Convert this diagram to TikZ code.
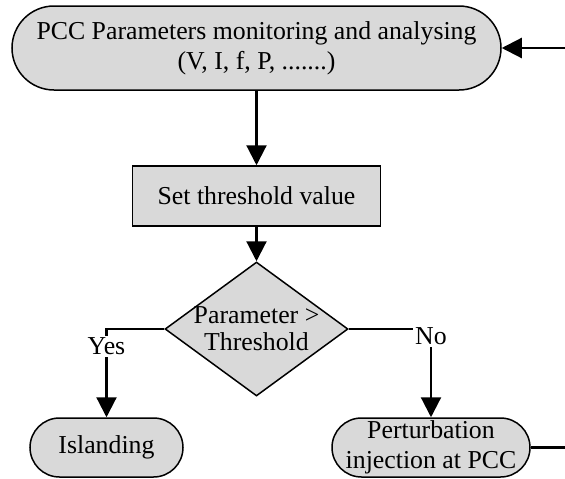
\documentclass[tikz,border=0pt]{standalone}
\usepackage{fontspec}
\setmainfont{Liberation Serif}
\usetikzlibrary{arrows.meta,shapes.geometric}
\definecolor{boxgray}{RGB}{217,217,217}
\begin{document}
\begin{tikzpicture}[x=1pt,y=-1pt,
  txt/.style={font=\fontsize{25.8}{30}\selectfont, align=center},
  term/.style={txt, draw, fill=boxgray, line width=1.5pt, rounded corners=#1, inner sep=0pt},
  proc/.style={txt, draw, fill=boxgray, line width=1.5pt, inner sep=0pt},
  decbox/.style={shape=diamond, draw, fill=boxgray, line width=1.5pt, inner sep=0pt},
  conn/.style={line width=2.2pt, -{Triangle[length=20pt,width=20pt]}},
  plain/.style={line width=2.2pt},
  lbl/.style={txt, fill=white, inner sep=2pt}
]
\useasboundingbox (0,0) rectangle (565,479);
\node[term=42pt, minimum width=489pt, minimum height=84pt] (mon) at (256.5,48)
  {PCC Parameters monitoring and analysing\\(V, I, f, P, .......)};
\node[proc, minimum width=248pt, minimum height=60pt] (thr) at (256.5,196) {Set threshold value};
\node[decbox, minimum width=183pt, minimum height=134pt] (dec) at (256.5,329) {};
\node[txt, font=\fontsize{25.8}{27}\selectfont] (dect) at (dec.center) {Parameter >\\Threshold};
\node[term=29.5pt, minimum width=153pt, minimum height=59pt] (isl) at (106.5,447.5) {Islanding};
\node[term=29.5pt, minimum width=198pt, minimum height=59pt] (pert) at (431,447.5) {Perturbation\\injection at PCC};
\coordinate (inR) at (565,48);
\coordinate (outR) at (565,447.5);
\draw[conn] (inR) -- (mon.east);
\draw[conn] (mon.south) -- (thr.north);
\draw[conn] (thr.south) -- (dec.north);
\draw[conn] (dec.west) -| node[lbl, pos=0.6] {Yes} (isl.north);
\draw[conn] (dec.east) -| node[lbl, pos=0.54] {No} (pert.north);
\draw[plain] (pert.east) -- (outR);
\end{tikzpicture}
\end{document}
